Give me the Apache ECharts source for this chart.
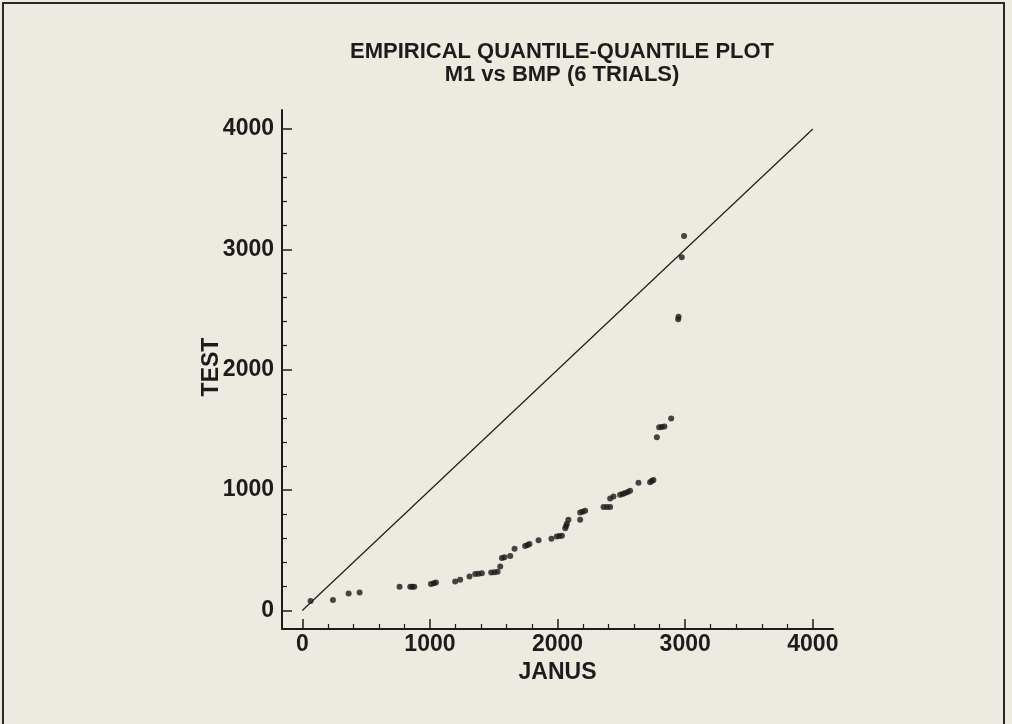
<!DOCTYPE html>
<html>
<head>
<meta charset="utf-8">
<script src="https://cdn.jsdelivr.net/npm/echarts@6/dist/echarts.min.js"></script>
<style>
  html, body { margin: 0; padding: 0; background: #ecebe0; }
  #chart { width: 1012px; height: 724px; }
</style>
</head>
<body>
<div id="chart"></div>
<script>
// Quantiles
const janusQ = [65, 240, 363, 449, 762, 846, 862, 877, 1008, 1030, 1047, 1198, 1237, 1310,
  1355, 1380, 1407, 1480, 1505, 1530, 1551, 1564, 1584, 1629, 1663, 1746, 1765, 1780, 1851,
  1952, 1994, 2014, 2034, 2060, 2067, 2073, 2085, 2177, 2177, 2196, 2216, 2360, 2386, 2412,
  2412, 2438, 2490, 2510, 2529, 2550, 2568, 2634, 2725, 2738, 2751, 2778, 2796, 2816, 2837,
  2890, 2945, 2948, 2973, 2991];
const testQ = [78, 86, 141, 150, 197, 197, 197, 197, 219, 226, 233, 241, 255, 282,
  302, 305, 309, 315, 317, 321, 365, 435, 443, 452, 512, 535, 544, 552, 583,
  595, 615, 618, 620, 684, 702, 720, 753, 753, 814, 821, 828, 859, 859, 859,
  930, 947, 961, 968, 975, 985, 994, 1061, 1066, 1075, 1083, 1440, 1523, 1525, 1528,
  1595, 2420, 2440, 2935, 3112];
const refLine = [[0, 0], [4000, 4000]];
const majorTicks = [0, 1000, 2000, 3000, 4000];
const minorTicks = [200, 400, 600, 800, 1200, 1400, 1600, 1800, 2200, 2400, 2600, 2800, 3200, 3400, 3600, 3800];
const titleLines = ['EMPIRICAL QUANTILE-QUANTILE PLOT', 'M1 vs BMP (6 TRIALS)'];
const xName = 'JANUS';
const yName = 'TEST';

const FONT = '"Liberation Sans", Arial, sans-serif';
const INK = '#1c1c1c';
const X_MIN = -159, X_MAX = 4158, Y_MIN = -154, Y_MAX = 4158;

const points = janusQ.map((x, i) => [x, testQ[i]]);
const plain = v => String(Math.round(v));

const chart = echarts.init(document.getElementById('chart'), null, { renderer: 'canvas' });
chart.setOption({
  backgroundColor: '#ecebe0',
  animation: false,
  title: {
    text: titleLines.join('\n'),
    left: 557, top: 35, textAlign: 'center',
    textStyle: { fontFamily: FONT, fontWeight: 'bold', fontSize: 22, lineHeight: 23, color: INK }
  },
  graphic: [{
    type: 'rect', silent: true,
    shape: { x: 3, y: 3, width: 1001, height: 740 },
    style: { fill: null, stroke: '#2a2a2a', lineWidth: 2 }
  }, {
    type: 'text', silent: true,
    x: 212, y: 367, rotation: Math.PI / 2,
    style: { text: yName, fontFamily: FONT, fontWeight: 'bold', fontSize: 23, fill: INK, align: 'center', verticalMiddle: 'middle', verticalAlign: 'middle' }
  }],
  grid: { left: 282, right: 179, top: 110, bottom: 95, containLabel: false },
  xAxis: [{
    type: 'value', min: X_MIN, max: X_MAX, position: 'bottom',
    name: xName, nameLocation: 'middle', nameGap: 30,
    nameTextStyle: { fontFamily: FONT, fontWeight: 'bold', fontSize: 23, color: INK },
    axisLine: { show: true, onZero: false, lineStyle: { color: INK, width: 2 } },
    axisTick: { show: true, inside: true, length: 10, customValues: majorTicks, lineStyle: { color: INK, width: 1.5 } },
    axisLabel: { show: true, customValues: majorTicks, formatter: plain, margin: 4, fontFamily: FONT, fontWeight: 'bold', fontSize: 23, color: INK },
    splitLine: { show: false }
  }, {
    type: 'value', min: X_MIN, max: X_MAX, position: 'bottom', offset: 0,
    axisLine: { show: false, onZero: false },
    axisTick: { show: true, inside: true, length: 5, customValues: minorTicks, lineStyle: { color: INK, width: 1.2 } },
    axisLabel: { show: false },
    splitLine: { show: false }
  }],
  yAxis: [{
    type: 'value', min: Y_MIN, max: Y_MAX, position: 'left',
    axisLine: { show: true, onZero: false, lineStyle: { color: INK, width: 2 } },
    axisTick: { show: true, inside: true, length: 10, customValues: majorTicks, lineStyle: { color: INK, width: 1.5 } },
    axisLabel: { show: true, customValues: majorTicks, formatter: plain, margin: 8, fontFamily: FONT, fontWeight: 'bold', fontSize: 23, color: INK },
    splitLine: { show: false }
  }, {
    type: 'value', min: Y_MIN, max: Y_MAX, position: 'left', offset: 0,
    axisLine: { show: false, onZero: false },
    axisTick: { show: true, inside: true, length: 5, customValues: minorTicks, lineStyle: { color: INK, width: 1.2 } },
    axisLabel: { show: false },
    splitLine: { show: false }
  }],
  series: [{
    type: 'line', data: refLine, xAxisIndex: 0, yAxisIndex: 0,
    symbol: 'none', lineStyle: { color: INK, width: 1.2 }, silent: true
  }, {
    type: 'scatter', data: points, xAxisIndex: 0, yAxisIndex: 0,
    symbol: 'circle', symbolSize: 6, itemStyle: { color: '#1a1a1a' }
  }]
});
</script>
</body>
</html>
